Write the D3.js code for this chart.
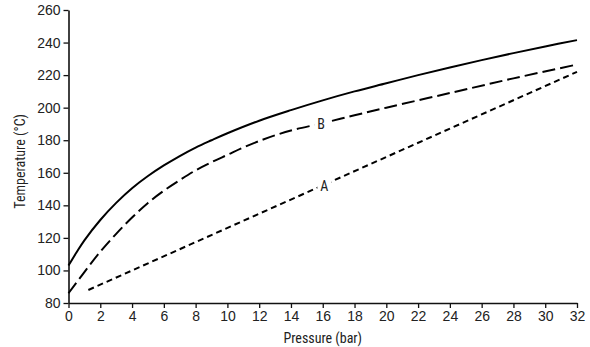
<!DOCTYPE html>
<html>
<head>
<meta charset="utf-8">
<script src="https://cdn.jsdelivr.net/npm/d3@7"></script>
<style>
  body { margin: 0; background: #fff; }
  svg text { font-family: "Liberation Sans Narrow", "Arial Narrow", "Roboto Condensed", sans-serif; fill: #222; }
</style>
</head>
<body>
<svg id="chart"></svg>
<script>
const width = 590;
const height = 347;
const margin = {top: 10, right: 13, bottom: 44, left: 68.5};

// curve values
const solidPressure = [0, 0.5, 1, 2, 3, 4, 5, 6, 7, 8, 9, 10, 12, 14, 16, 18, 20, 22, 24, 26, 28, 30, 32];
const solidTemp = [103, 111, 118.5, 131, 141.5, 150.5, 158, 164.5, 170.3, 175.5, 180, 184.3, 192, 198.5, 204.5, 210, 215, 220, 224.7, 229.2, 233.5, 237.6, 241.5];
const curveBPressure = [0, 1, 2, 3, 4, 5, 6, 7, 8, 9, 10, 11, 12, 13, 14, 16, 18, 20, 24, 28, 32];
const curveBTemp = [86, 99, 111.5, 122.5, 132.5, 141.5, 149, 155.5, 161.5, 166.5, 171, 175.5, 179.5, 183, 186, 190.5, 195.3, 200, 209, 218, 226.5];
const lineAPressure = [1.25, 32];
const lineATemp = [88, 222];

const xTicks = d3.range(0, 33, 2);
const yTicks = d3.range(80, 261, 20);

const svg = d3.select("#chart")
    .attr("width", width)
    .attr("height", height);

const xScale = d3.scaleLinear()
    .domain([0, 32])
    .range([margin.left, width - margin.right]);

const yScale = d3.scaleLinear()
    .domain([80, 260])
    .range([height - margin.bottom, margin.top]);

const xAxis = d3.axisBottom(xScale)
    .tickValues(xTicks)
    .tickSize(5)
    .tickSizeOuter(0)
    .tickPadding(3);

const yAxis = d3.axisLeft(yScale)
    .tickValues(yTicks)
    .tickSize(5)
    .tickSizeOuter(0)
    .tickPadding(3);

const gx = svg.append("g")
    .attr("transform", `translate(0, ${height - margin.bottom})`)
    .call(xAxis);

const gy = svg.append("g")
    .attr("transform", `translate(${margin.left}, 0)`)
    .call(yAxis);

[gx, gy].forEach(g => {
    g.select(".domain").attr("stroke", "#111").attr("stroke-width", 1.6);
    g.selectAll(".tick line").attr("stroke", "#111").attr("stroke-width", 1.3);
    g.selectAll(".tick text")
     .style("font-size", "14px")
     .style("font-family", "\"Liberation Sans Narrow\", \"Arial Narrow\", sans-serif")
     .attr("fill", "#222");
});

// axis titles
svg.append("text")
    .attr("x", xScale(16))
    .attr("y", 343)
    .attr("text-anchor", "middle")
    .style("font-size", "14px")
    .text("Pressure (bar)");

svg.append("text")
    .attr("transform", `translate(25, ${yScale(167)}) rotate(-90)`)
    .attr("text-anchor", "middle")
    .style("font-size", "14px")
    .text("Temperature (°C)");

const line = d3.line()
    .x(d => xScale(d[0]))
    .y(d => yScale(d[1]))
    .curve(d3.curveCatmullRom.alpha(0.5));

svg.append("path")
    .datum(d3.zip(solidPressure, solidTemp))
    .attr("d", line)
    .attr("fill", "none")
    .attr("stroke", "#000")
    .attr("stroke-width", 2);

svg.append("path")
    .datum(d3.zip(curveBPressure, curveBTemp))
    .attr("d", line)
    .attr("fill", "none")
    .attr("stroke", "#000")
    .attr("stroke-width", 2)
    .attr("stroke-dasharray", "13,5");

svg.append("path")
    .datum(d3.zip(lineAPressure, lineATemp))
    .attr("d", line)
    .attr("fill", "none")
    .attr("stroke", "#000")
    .attr("stroke-width", 2)
    .attr("stroke-dasharray", "6,4");

// curve labels with a white gap behind them
const labels = [
    {text: "B", p: 15.9, t: 189.8},
    {text: "A", p: 16.1, t: 152}
];

labels.forEach(l => {
    svg.append("rect")
        .attr("x", xScale(l.p) - 7)
        .attr("y", yScale(l.t) - 8)
        .attr("width", 14)
        .attr("height", 16)
        .attr("fill", "#fff");
    svg.append("text")
        .attr("x", xScale(l.p))
        .attr("y", yScale(l.t) + 5)
        .attr("text-anchor", "middle")
        .style("font-size", "14px")
        .text(l.text);
});
</script>
</body>
</html>
